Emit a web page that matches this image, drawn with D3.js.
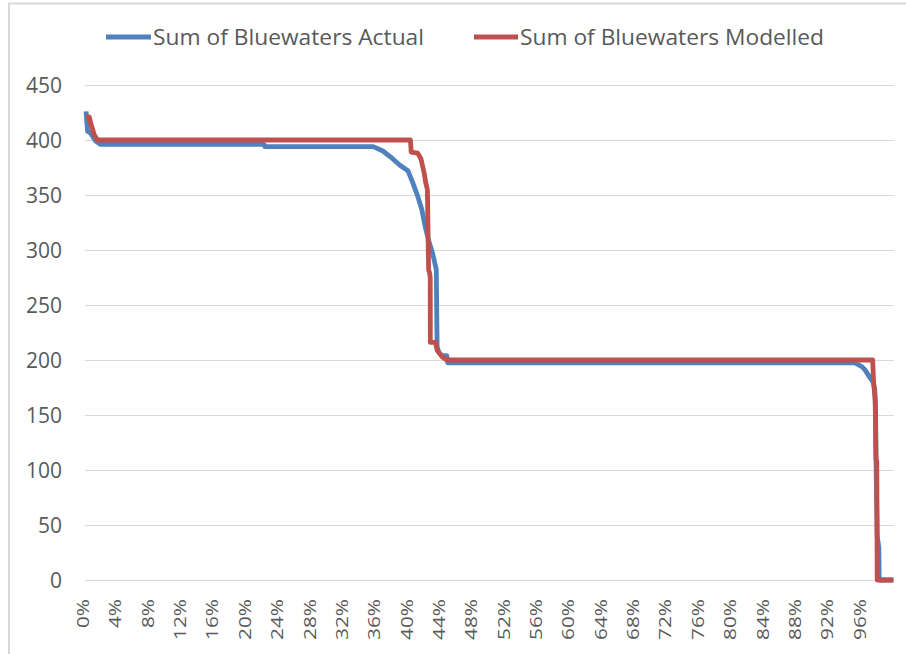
<!DOCTYPE html>
<html>
<head>
<meta charset="utf-8">
<script src="https://cdn.jsdelivr.net/npm/d3@7"></script>
<style>
  html, body { margin: 0; padding: 0; background: #fff; }
  svg { display: block; }
</style>
</head>
<body>
<svg id="chart" width="906" height="654"></svg>
<script>
// ---- Data ----
const seriesNames = ["Sum of Bluewaters Actual", "Sum of Bluewaters Modelled"];
const yTicks = [0, 50, 100, 150, 200, 250, 300, 350, 400, 450];
const xTicks = [0,0.04,0.08,0.12,0.16,0.20,0.24,0.28,0.32,0.36,0.40,0.44,0.48,0.52,0.56,0.60,0.64,0.68,0.72,0.76,0.80,0.84,0.88,0.92,0.96];
const xTickLabels = ["0%","4%","8%","12%","16%","20%","24%","28%","32%","36%","40%","44%","48%","52%","56%","60%","64%","68%","72%","76%","80%","84%","88%","92%","96%"];

const actualPct = [0.000,0.002,0.006,0.012,0.018,0.220,0.221,0.355,0.367,0.379,0.388,0.398,0.404,0.410,0.415,0.419,0.423,0.428,0.430,0.433,0.434,0.436,0.440,0.446,0.447,0.950,0.959,0.963,0.969,0.973,0.975,0.976,0.9765,0.978,0.980,0.9805,0.998];
const actualVal = [426,408,406,399,396,396,394,394,390,383,377,372,361,349,337,322,310,298,292,282,212,207,204,204,197.5,197.5,194,191,184,180,173,155,110,40,30,0,0];

const modelPct = [0.000,0.004,0.006,0.010,0.014,0.401,0.402,0.410,0.414,0.418,0.420,0.422,0.4235,0.4245,0.4255,0.4256,0.432,0.434,0.440,0.446,0.9724,0.9735,0.9755,0.9765,0.9775,0.978,0.998];
const modelVal = [421,421,415,405,400,400,389,388,383,370,361,355,282,280,275,216,216,209,203,200,200,180,164,110,108,0,0];

// ---- Layout ----
const svg = d3.select("#chart");
const x = d3.scaleLinear().domain([0, 1]).range([86, 895]);
const y = d3.scaleLinear().domain([0, 450]).range([580, 85]);
const colors = ["#4F81BD", "#C0504D"];

// chart border (left & top visible)
svg.append("rect").attr("x", 9).attr("y", 3.5).attr("width", 920).attr("height", 700)
  .attr("fill", "none").attr("stroke", "#d9d9d9").attr("stroke-width", 2);

// gridlines
svg.append("g").selectAll("line").data(yTicks).join("line")
  .attr("x1", 85).attr("x2", 894)
  .attr("y1", d => Math.round(y(d)) + 0.5).attr("y2", d => Math.round(y(d)) + 0.5)
  .attr("stroke", "#d9d9d9").attr("stroke-width", 1);

// y axis labels
const yAxis = d3.axisLeft(y).tickValues(yTicks).tickSize(0).tickPadding(0);
const gy = svg.append("g").attr("transform", "translate(62,0)").call(yAxis);
gy.select(".domain").remove();
gy.selectAll("text").attr("font-family", "Open Sans").attr("font-size", 21)
  .attr("fill", "#595959").attr("dy", "0.36em");

// x axis labels (rotated)
svg.append("g").selectAll("text").data(xTicks).join("text")
  .attr("transform", d => `translate(${x(d) + 3},599) rotate(-90) scale(1.3,1)`)
  .attr("text-anchor", "end")
  .attr("font-family", "Open Sans").attr("font-size", 16).attr("fill", "#595959")
  .text((d, i) => xTickLabels[i]);

// lines
const line = d3.line().x(d => x(d[0])).y(d => y(d[1]));
const actual = actualPct.map((p, i) => [p, actualVal[i]]);
const modelled = modelPct.map((p, i) => [p, modelVal[i]]);
[actual, modelled].forEach((data, i) => {
  svg.append("path").datum(data).attr("d", line)
    .attr("fill", "none").attr("stroke", colors[i]).attr("stroke-width", 4.8)
    .attr("stroke-linejoin", "round").attr("stroke-linecap", "butt");
});

// legend
const legend = [
  { x1: 106, x2: 151, tx: 153, w: 271 },
  { x1: 474, x2: 518, tx: 520, w: 304 }
];
legend.forEach((l, i) => {
  svg.append("line").attr("x1", l.x1).attr("x2", l.x2).attr("y1", 37).attr("y2", 37)
    .attr("stroke", colors[i]).attr("stroke-width", 4.8);
  svg.append("text").attr("x", l.tx).attr("y", 45)
    .attr("font-family", "Open Sans").attr("font-size", 21).attr("fill", "#595959")
    .attr("textLength", l.w).attr("lengthAdjust", "spacingAndGlyphs")
    .text(seriesNames[i]);
});
</script>
</body>
</html>
